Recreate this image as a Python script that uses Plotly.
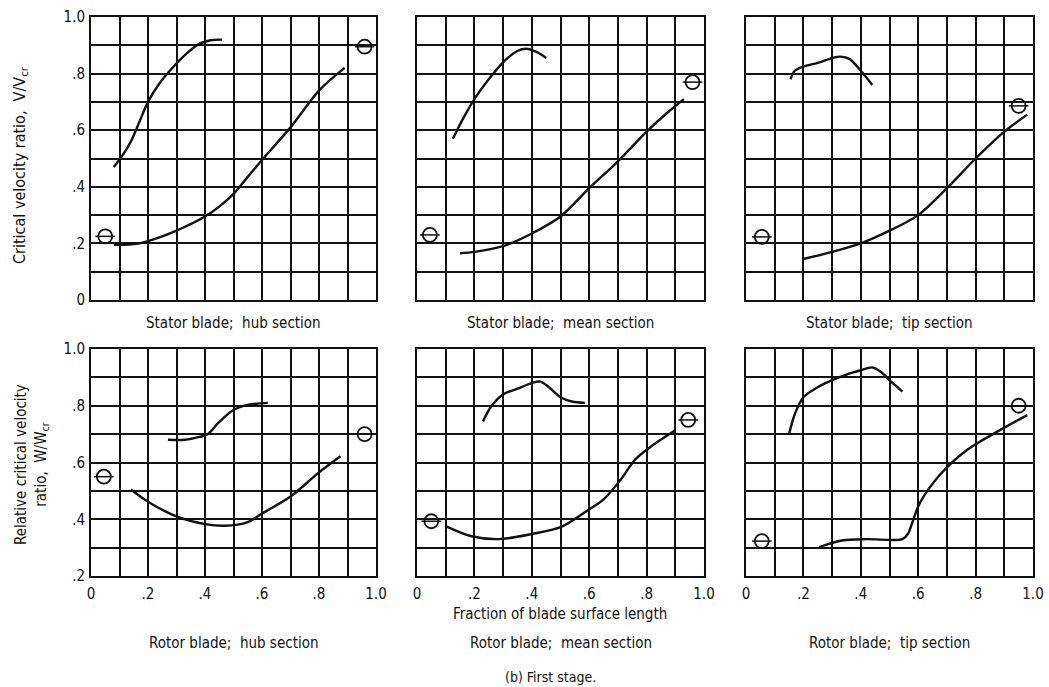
import plotly.graph_objects as go

# ---- Data: surface velocity distributions, first stage ----
panel_titles = [
    "Stator blade;  hub section", "Stator blade;  mean section", "Stator blade;  tip section",
    "Rotor blade;  hub section", "Rotor blade;  mean section", "Rotor blade;  tip section",
]

stator_hub_upper_x = [0.08, 0.11, 0.14, 0.17, 0.20, 0.24, 0.29, 0.34, 0.38, 0.42, 0.46]
stator_hub_upper_y = [0.47, 0.51, 0.56, 0.63, 0.70, 0.765, 0.825, 0.875, 0.905, 0.918, 0.92]
stator_hub_lower_x = [0.08, 0.12, 0.17, 0.25, 0.30, 0.40, 0.45, 0.50, 0.55, 0.60, 0.70, 0.80, 0.89]
stator_hub_lower_y = [0.195, 0.195, 0.20, 0.225, 0.245, 0.295, 0.33, 0.375, 0.435, 0.495, 0.61, 0.74, 0.82]

stator_mean_upper_x = [0.125, 0.16, 0.20, 0.25, 0.30, 0.35, 0.38, 0.42, 0.45]
stator_mean_upper_y = [0.57, 0.64, 0.71, 0.78, 0.84, 0.88, 0.888, 0.875, 0.855]
stator_mean_lower_x = [0.15, 0.20, 0.30, 0.40, 0.50, 0.60, 0.70, 0.80, 0.87, 0.93]
stator_mean_lower_y = [0.165, 0.17, 0.19, 0.235, 0.295, 0.395, 0.49, 0.595, 0.66, 0.71]

stator_tip_upper_x = [0.155, 0.17, 0.20, 0.25, 0.30, 0.33, 0.36, 0.40, 0.44]
stator_tip_upper_y = [0.78, 0.81, 0.825, 0.838, 0.855, 0.86, 0.852, 0.81, 0.76]
stator_tip_lower_x = [0.20, 0.30, 0.40, 0.50, 0.60, 0.70, 0.80, 0.90, 0.98]
stator_tip_lower_y = [0.145, 0.17, 0.20, 0.245, 0.30, 0.395, 0.50, 0.595, 0.655]

rotor_hub_upper_x = [0.27, 0.33, 0.38, 0.41, 0.45, 0.50, 0.55, 0.62]
rotor_hub_upper_y = [0.68, 0.68, 0.69, 0.70, 0.743, 0.785, 0.803, 0.81]
rotor_hub_lower_x = [0.14, 0.20, 0.30, 0.40, 0.47, 0.55, 0.60, 0.70, 0.80, 0.875]
rotor_hub_lower_y = [0.505, 0.462, 0.41, 0.383, 0.377, 0.39, 0.42, 0.48, 0.565, 0.622]

rotor_mean_upper_x = [0.23, 0.26, 0.30, 0.35, 0.40, 0.43, 0.46, 0.50, 0.54, 0.585]
rotor_mean_upper_y = [0.745, 0.80, 0.84, 0.86, 0.88, 0.885, 0.865, 0.83, 0.815, 0.81]
rotor_mean_lower_x = [0.10, 0.19, 0.285, 0.40, 0.50, 0.585, 0.65, 0.71, 0.76, 0.82, 0.90]
rotor_mean_lower_y = [0.376, 0.34, 0.33, 0.348, 0.372, 0.425, 0.47, 0.54, 0.61, 0.66, 0.714]

rotor_tip_upper_x = [0.15, 0.17, 0.20, 0.25, 0.30, 0.35, 0.40, 0.44, 0.47, 0.50, 0.545]
rotor_tip_upper_y = [0.70, 0.77, 0.83, 0.865, 0.89, 0.91, 0.925, 0.935, 0.92, 0.89, 0.85]
rotor_tip_lower_x = [0.255, 0.335, 0.42, 0.545, 0.565, 0.58, 0.605, 0.675, 0.77, 0.885, 0.98]
rotor_tip_lower_y = [0.302, 0.325, 0.33, 0.33, 0.35, 0.39, 0.456, 0.556, 0.644, 0.714, 0.767]

# Free-stream (inlet / exit) values, plotted as barred circles
free_stream_x = [[0.05, 0.96], [0.045, 0.96], [0.055, 0.95],
                 [0.045, 0.96], [0.05, 0.945], [0.055, 0.95]]
free_stream_y = [[0.225, 0.895], [0.23, 0.77], [0.223, 0.686],
                 [0.55, 0.70], [0.393, 0.75], [0.323, 0.80]]

curves = [
    [(stator_hub_upper_x, stator_hub_upper_y), (stator_hub_lower_x, stator_hub_lower_y)],
    [(stator_mean_upper_x, stator_mean_upper_y), (stator_mean_lower_x, stator_mean_lower_y)],
    [(stator_tip_upper_x, stator_tip_upper_y), (stator_tip_lower_x, stator_tip_lower_y)],
    [(rotor_hub_upper_x, rotor_hub_upper_y), (rotor_hub_lower_x, rotor_hub_lower_y)],
    [(rotor_mean_upper_x, rotor_mean_upper_y), (rotor_mean_lower_x, rotor_mean_lower_y)],
    [(rotor_tip_upper_x, rotor_tip_upper_y), (rotor_tip_lower_x, rotor_tip_lower_y)],
]

# ---- Layout geometry (pixels in a 1049 x 687 page) ----
W, H = 1049, 687
FONT = "Liberation Sans Narrow, DejaVu Sans Condensed, Arial Narrow, Liberation Sans, sans-serif"
INK = "#111"
col_px = [(91, 376), (417, 704), (746, 1033)]
row_px = [(17, 300), (349, 576)]
row_ranges = [(0.0, 1.0), (0.2, 1.0)]


def fmt(v):
    if abs(v) < 1e-9:
        return "0"
    if abs(v - 1.0) < 1e-9:
        return "1.0"
    return ("%.1f" % v).lstrip("0")


def note(text, px, py, size=15, angle=0):
    fig.add_annotation(text=text, x=px / W, y=1 - py / H, xref="paper", yref="paper",
                       xanchor="center", yanchor="middle", showarrow=False, textangle=angle,
                       font=dict(family=FONT, size=size, color=INK))


fig = go.Figure()
for i in range(6):
    r, c = divmod(i, 3)
    n = i + 1
    xa = "x" if n == 1 else f"x{n}"
    ya = "y" if n == 1 else f"y{n}"
    x0, x1 = col_px[c]
    y0, y1 = row_px[r]
    lo, hi = row_ranges[r]

    xt = [k / 10 for k in range(11)]
    yt = [round(lo + k / 10, 1) for k in range(int(round((hi - lo) * 10)) + 1)]
    xtext = [fmt(v) if (k % 2 == 0 and r == 1) else "" for k, v in enumerate(xt)]
    ytext = [fmt(v) if (abs(round(v * 10)) % 2 == 0 and c == 0) else "" for v in yt]

    axis_common = dict(showgrid=True, gridcolor=INK, gridwidth=1.6, zeroline=False,
                       showline=True, linecolor=INK, linewidth=2, mirror=True,
                       ticks="", automargin=False,
                       tickfont=dict(family=FONT, size=15, color=INK))
    fig.layout[("xaxis" if n == 1 else f"xaxis{n}")] = dict(
        domain=[x0 / W, x1 / W], range=[0, 1], anchor=ya,
        tickmode="array", tickvals=xt, ticktext=xtext, ticklabelstandoff=3, **axis_common)
    fig.layout[("yaxis" if n == 1 else f"yaxis{n}")] = dict(
        domain=[1 - y1 / H, 1 - y0 / H], range=[lo, hi], anchor=xa,
        tickmode="array", tickvals=yt, ticktext=ytext, ticklabelstandoff=1, **axis_common)

    for cx, cy in curves[i]:
        fig.add_trace(go.Scatter(x=cx, y=cy, xaxis=xa, yaxis=ya, mode="lines",
                                 line=dict(color=INK, width=2.4, shape="spline", smoothing=0.9),
                                 showlegend=False, hoverinfo="skip"))
    fig.add_trace(go.Scatter(x=free_stream_x[i], y=free_stream_y[i], xaxis=xa, yaxis=ya,
                             mode="markers", showlegend=False, hoverinfo="skip",
                             marker=dict(symbol="circle-open", size=14, color=INK,
                                         line=dict(width=1.8, color=INK))))
    fig.add_trace(go.Scatter(x=free_stream_x[i], y=free_stream_y[i], xaxis=xa, yaxis=ya,
                             mode="markers", showlegend=False, hoverinfo="skip",
                             marker=dict(symbol="line-ew-open", size=14, color=INK,
                                         line=dict(width=1.5, color=INK))))

    # panel caption below each plot
    note(panel_titles[i], (x0 + x1) / 2, 323 if r == 0 else 643)

note("Critical velocity ratio,  V/V<sub>cr</sub>", 20, 165, size=16, angle=-90)
note("Relative critical velocity<br>ratio,  W/W<sub>cr</sub>", 31, 465, size=15, angle=-90)
note("Fraction of blade surface length", 560, 614, size=15)
note("(b) First stage.", 550, 677, size=14)

fig.update_layout(width=W, height=H,
                  margin=dict(l=0, r=0, t=0, b=0, pad=0, autoexpand=False),
                  paper_bgcolor="white", plot_bgcolor="white", showlegend=False)

fig.write_html("out.html")
